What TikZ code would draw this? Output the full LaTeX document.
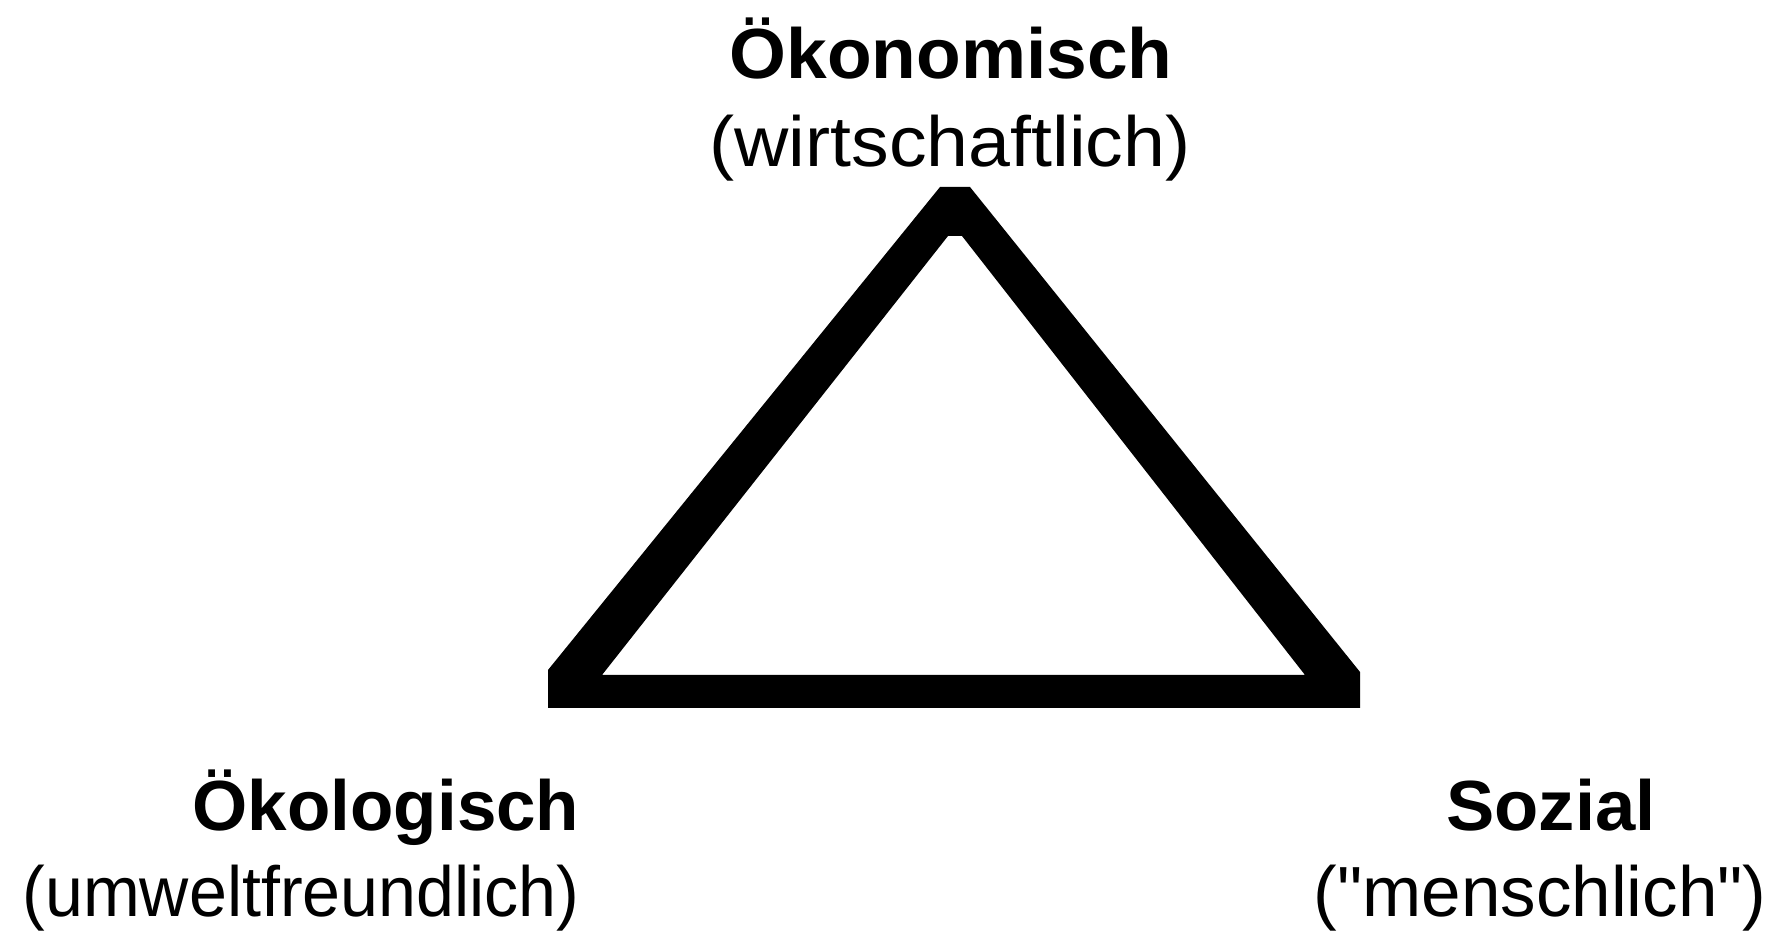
\documentclass[tikz,border=0pt]{standalone}
\usepackage{fontspec}
\usepackage{graphicx}
\setmainfont{Liberation Sans}
\newfontfamily\rawsans{Liberation Sans}[Ligatures=TeXOff]
\tikzset{
  head/.style={font=\fontsize{71}{80}\selectfont\bfseries, inner sep=0pt, anchor=base},
  sub/.style={font=\fontsize{71}{80}\selectfont, inner sep=0pt, anchor=base},
}
\begin{document}
\begin{tikzpicture}[x=1pt,y=1pt]
\useasboundingbox[fill=white] (0,0) rectangle (1780,936);
% triangle frame
\fill[black, even odd rule]
  (548,228) -- (548,266) -- (940,749) -- (970,749) -- (1360,264) -- (1360,228) -- cycle
  (602,261) -- (948,700) -- (962,700) -- (1305,261) -- cycle;
% labels
\node[head] (oek) at (951,857) {\scalebox{1.03}[1]{Ökonomisch}};
\node[sub] (oeksub) at (950,769) {\scalebox{1.06}[1]{(wirtschaftlich)}};
\node[head] (oeko) at (386,105) {Ökologisch};
\node[sub] (oekosub) at (301,19) {\scalebox{0.96}[1]{(umweltfreundlich)}};
\node[head] (soz) at (1551,105) {\scalebox{1.02}[1]{Sozial}};
\node[sub] (sozsub) at (1540,19) {\rawsans("menschlich")};
\end{tikzpicture}
\end{document}
